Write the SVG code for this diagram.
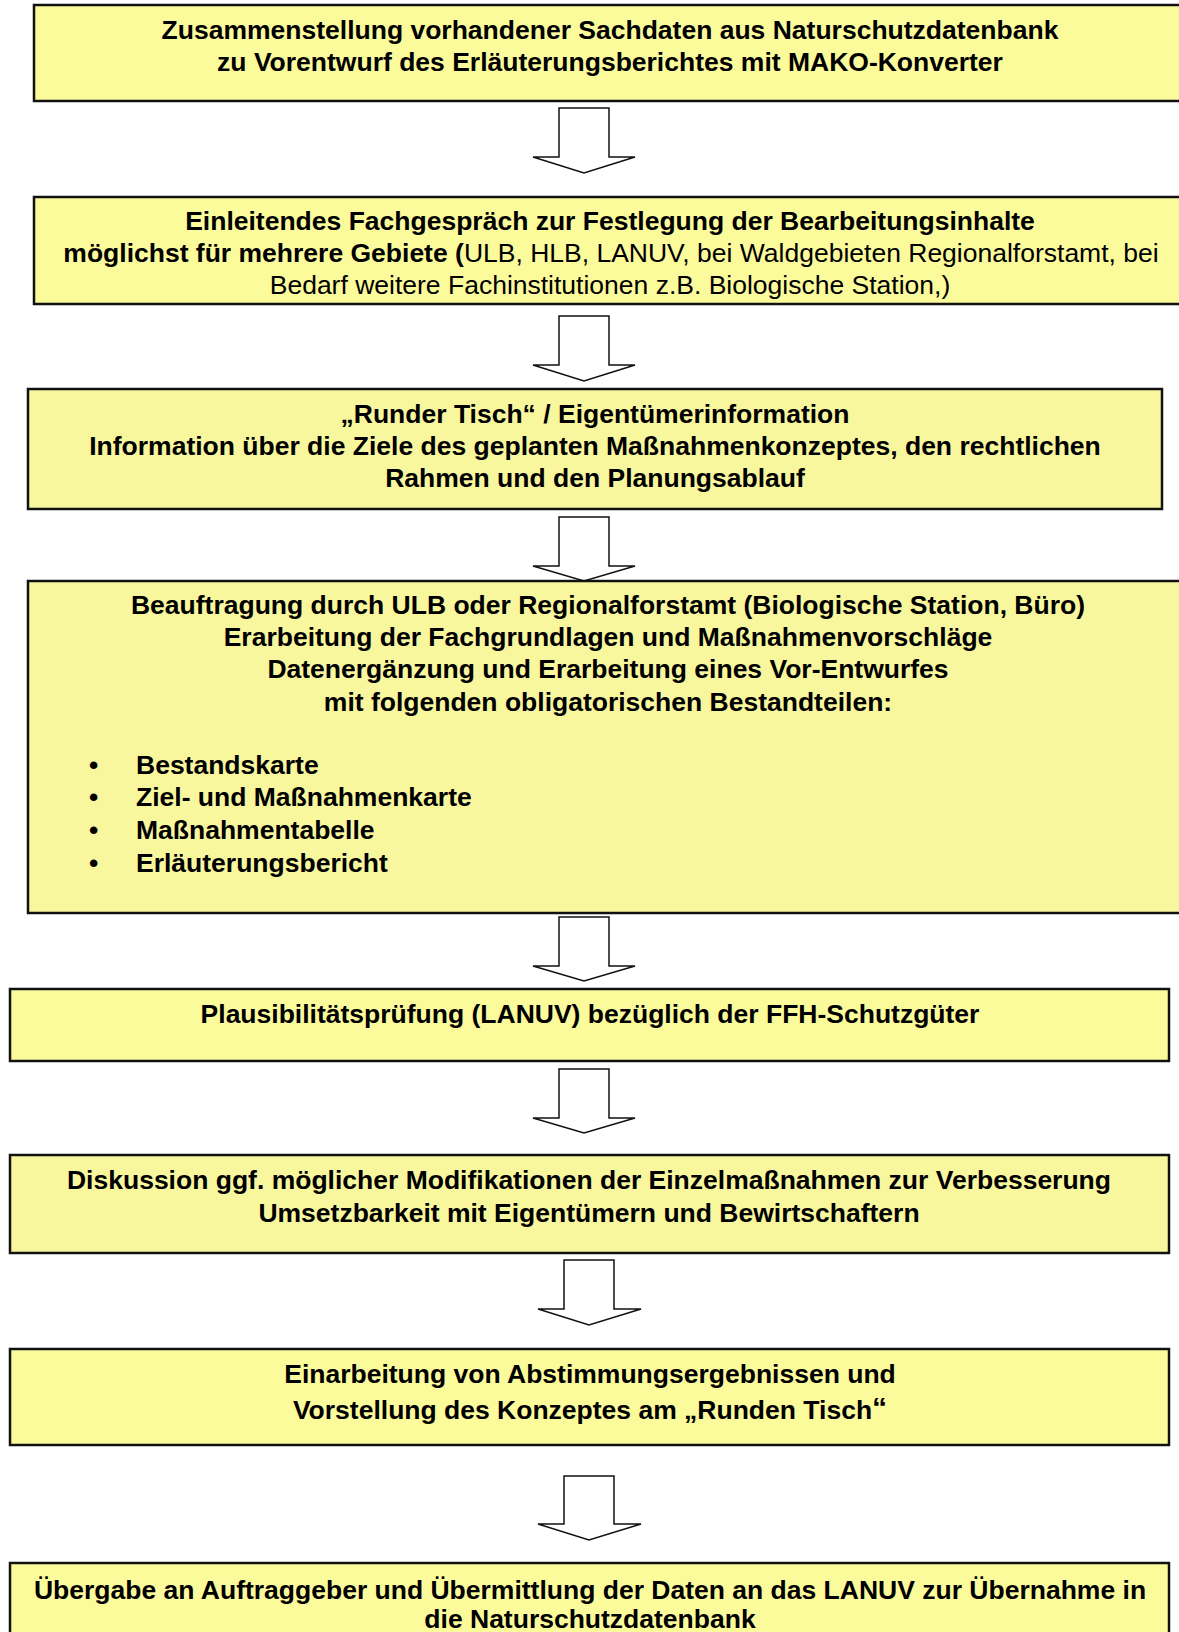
<svg xmlns="http://www.w3.org/2000/svg" width="1179" height="1632" viewBox="0 0 1179 1632">
<style>
.box{fill:#FCFB9C;stroke:#111;stroke-width:2.5}
.box2{fill:#F8F79E;stroke:#111;stroke-width:2.5}
.t{font-family:"Liberation Sans",Arial,sans-serif;font-size:26.5px;font-weight:bold;fill:#000;text-anchor:middle}
.tl{font-family:"Liberation Sans",Arial,sans-serif;font-size:26.5px;font-weight:bold;fill:#000}
.r{font-weight:normal}
.arrow{fill:#fff;stroke:#111;stroke-width:1.5;stroke-linejoin:miter}
</style>
<rect width="1179" height="1632" fill="#fff"/>
<g id="connectors">
<path class="arrow" d="M559,108 H609 V157 H635 L584,173 L533,157 H559 Z"/>
<path class="arrow" d="M559,316 H609 V365 H635 L584,381 L533,365 H559 Z"/>
<path class="arrow" d="M559,517 H609 V566 H635 L584,581 L533,566 H559 Z"/>
<path class="arrow" d="M559,917 H609 V966 H635 L584,981 L533,966 H559 Z"/>
<path class="arrow" d="M559,1069 H609 V1118 H635 L584,1133 L533,1118 H559 Z"/>
<path class="arrow" d="M564,1260 H614 V1309 H641 L589,1325 L538,1309 H564 Z"/>
<path class="arrow" d="M564,1476 H614 V1524 H641 L589,1540 L538,1524 H564 Z"/>
</g>
<g id="n1">
<rect class="box" x="34" y="5" width="1150" height="96"/>
<text class="t" x="610" y="39">Zusammenstellung vorhandener Sachdaten aus Naturschutzdatenbank</text>
<text class="t" x="610" y="71">zu Vorentwurf des Erläuterungsberichtes mit MAKO-Konverter</text>
</g>
<g id="n2">
<rect class="box" x="34" y="197" width="1150" height="107"/>
<text class="t" x="610" y="230">Einleitendes Fachgespräch zur Festlegung der Bearbeitungsinhalte</text>
<text class="t" x="611" y="262">möglichst für mehrere Gebiete (<tspan class="r">ULB, HLB, LANUV, bei Waldgebieten Regionalforstamt, bei</tspan></text>
<text class="t r" x="610" y="294">Bedarf weitere Fachinstitutionen z.B. Biologische Station,)</text>
</g>
<g id="n3">
<rect class="box2" x="28" y="389" width="1134" height="120"/>
<text class="t" x="595" y="423">„Runder Tisch“ / Eigentümerinformation</text>
<text class="t" x="595" y="455">Information über die Ziele des geplanten Maßnahmenkonzeptes, den rechtlichen</text>
<text class="t" x="595" y="487">Rahmen und den Planungsablauf</text>
</g>
<g id="n4">
<rect class="box2" x="28" y="581" width="1156" height="332"/>
<text class="t" x="608" y="614">Beauftragung durch ULB oder Regionalforstamt (Biologische Station, Büro)</text>
<text class="t" x="608" y="646">Erarbeitung der Fachgrundlagen und Maßnahmenvorschläge</text>
<text class="t" x="608" y="678">Datenergänzung und Erarbeitung eines Vor-Entwurfes</text>
<text class="t" x="608" y="711">mit folgenden obligatorischen Bestandteilen:</text>
<text class="tl" x="89" y="774">•</text>
<text class="tl" x="136" y="774">Bestandskarte</text>
<text class="tl" x="89" y="806">•</text>
<text class="tl" x="136" y="806">Ziel- und Maßnahmenkarte</text>
<text class="tl" x="89" y="839">•</text>
<text class="tl" x="136" y="839">Maßnahmentabelle</text>
<text class="tl" x="89" y="872">•</text>
<text class="tl" x="136" y="872">Erläuterungsbericht</text>
</g>
<g id="n5">
<rect class="box" x="10" y="989" width="1159" height="72"/>
<text class="t" x="590" y="1023">Plausibilitätsprüfung (LANUV) bezüglich der FFH-Schutzgüter</text>
</g>
<g id="n6">
<rect class="box2" x="10" y="1155" width="1159" height="98"/>
<text class="t" x="589" y="1189">Diskussion ggf. möglicher Modifikationen der Einzelmaßnahmen zur Verbesserung</text>
<text class="t" x="589" y="1222">Umsetzbarkeit mit Eigentümern und Bewirtschaftern</text>
</g>
<g id="n7">
<rect class="box" x="10" y="1349" width="1159" height="96"/>
<text class="t" x="590" y="1383">Einarbeitung von Abstimmungsergebnissen und</text>
<text class="t" x="590" y="1419">Vorstellung des Konzeptes am „Runden Tisch<tspan font-size="30" dy="-1">“</tspan></text>
</g>
<g id="n8">
<rect class="box" x="10" y="1563" width="1159" height="80"/>
<text class="t" x="590" y="1599">Übergabe an Auftraggeber und Übermittlung der Daten an das LANUV zur Übernahme in</text>
<text class="t" x="590" y="1628">die Naturschutzdatenbank</text>
</g>
</svg>
